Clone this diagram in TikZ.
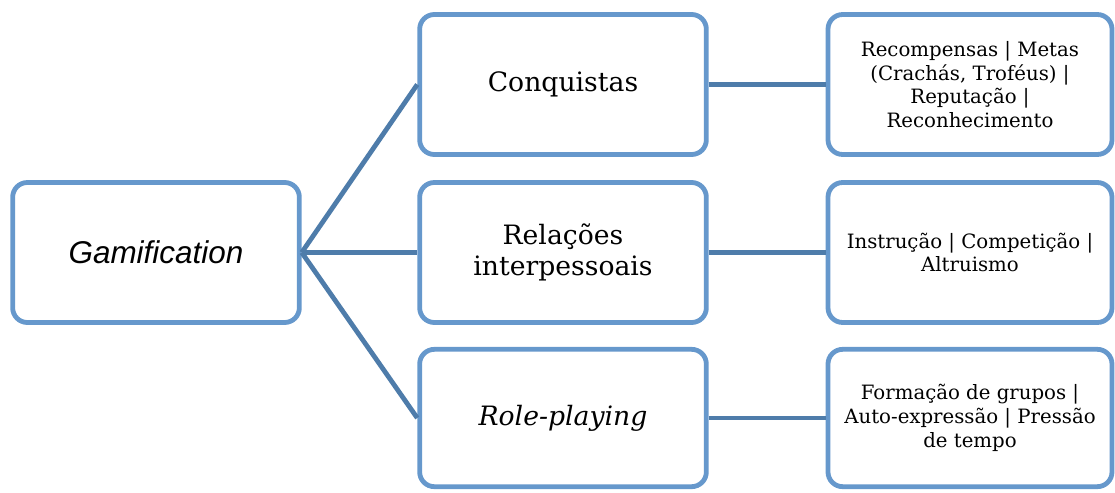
\documentclass[tikz,border=0pt]{standalone}
\usepackage{fontspec}
\setmainfont{DejaVu Serif}
\newfontfamily\gamfont{Liberation Sans}
\usepackage{tikz}
\usetikzlibrary{positioning}
\definecolor{colorB}{HTML}{6698CC}
\definecolor{colorL}{HTML}{4E7CAA}

\tikzset{
  box/.style={draw=colorB, line width=3.6pt, rounded corners=11pt, fill=white,
    minimum width=215pt, minimum height=105pt, align=center, inner sep=2pt},
  smallbox/.style={box, minimum width=213pt, font=\fontsize{14.8}{17.8}\selectfont},
  midbox/.style={box, font=\fontsize{20}{23.2}\selectfont},
  link/.style={colorL, line width=3.6pt}
}

\begin{document}
\begin{tikzpicture}[x=0.75pt, y=-0.75pt]
        \useasboundingbox (0,0) rectangle (1115,493);
        \node[box, font=\gamfont\itshape\fontsize{23.6}{28}\selectfont] (gam) at (156,252.5) {Gamification};
        \node[midbox] (conq) at (563,84.5) {Conquistas};
        \node[midbox] (rel) at (563,252.5) {Relações\\interpessoais};
        \node[midbox, font=\fontsize{20}{23.2}\selectfont\itshape, minimum height=103pt] (role) at (563,418) {Role-playing};
        \node[smallbox] (rec) at (970,84.5) {Recompensas | Metas\\(Crachás, Troféus) |\\Reputação |\\Reconhecimento};
        \node[smallbox] (inst) at (970,252.5) {Instrução | Competição |\\Altruismo};
        \node[smallbox, minimum height=103pt] (form) at (970,418) {Formação de grupos |\\Auto-expressão | Pressão\\de tempo};
        \draw[link] (gam.east) -- (conq.west);
        \draw[link] (gam.east) -- (rel.west);
        \draw[link] (gam.east) -- (role.west);
        \draw[link] (conq.east) -- (rec.west);
        \draw[link] (rel.east) -- (inst.west);
        \draw[link] (role.east) -- (form.west);
    \end{tikzpicture}
\end{document}
